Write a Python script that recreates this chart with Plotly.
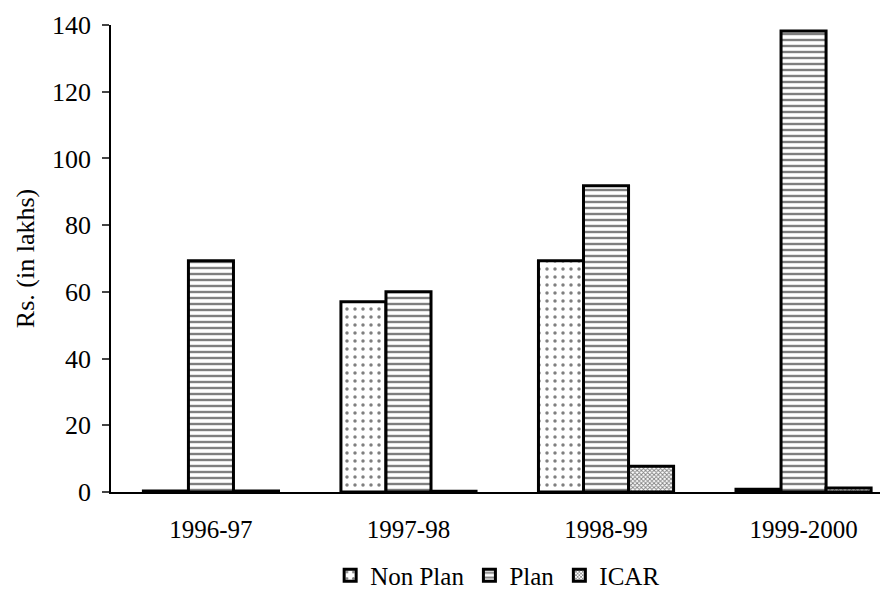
import plotly.graph_objects as go

years = ["1996-97", "1997-98", "1998-99", "1999-2000"]
non_plan = [0.3, 57, 69.3, 0.8]
plan = [69.3, 60, 91.8, 138.2]
icar = [0.3, 0.2, 7.7, 1.2]
y_ticks = [0, 20, 40, 60, 80, 100, 120, 140]

font = "Liberation Serif, Times New Roman, serif"

fig = go.Figure()
series = [("Non Plan", non_plan, ".", 8, 0.15), ("Plan", plan, "-", 6, 0.4), ("ICAR", icar, "x", 3, 0.5)]
for name, vals, shape, size, sol in series:
    fig.add_trace(go.Bar(
        x=years, y=vals, name=name,
        marker=dict(color="white", line=dict(color="black", width=3),
                    pattern=dict(shape=shape, fgcolor="black", bgcolor="white", size=size, solidity=sol)),
    ))

fig.update_layout(
    width=880, height=585,
    margin=dict(l=103, r=8, t=17, b=101),
    paper_bgcolor="white", plot_bgcolor="white",
    barmode="group", bargap=0.316, bargroupgap=0,
    font=dict(family=font, size=26, color="black"),
    showlegend=True,
    legend=dict(orientation="h", x=0.285, xanchor="left", yref="container", y=0.03, yanchor="middle",
                font=dict(family=font, size=25), itemwidth=30, tracegroupgap=0),
    xaxis=dict(range=[-0.506, 3.387], showline=True, linecolor="black", linewidth=1.5, ticks="",
               showgrid=False, automargin=False, ticklabelstandoff=14, tickfont=dict(family=font, size=25)),
    yaxis=dict(range=[0, 140], tickvals=y_ticks, showline=True, linecolor="black", linewidth=1.5,
               ticks="outside", ticklen=7, tickwidth=1.5, showgrid=False, zeroline=False,
               automargin=False, ticklabelstandoff=6,
               title=dict(text="Rs. (in lakhs)", font=dict(family=font, size=26), standoff=10),
               tickfont=dict(family=font, size=26)),
)

fig.write_html("out.html")
